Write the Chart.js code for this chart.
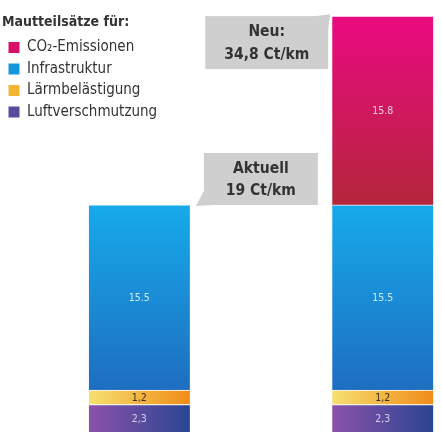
<!DOCTYPE html>
<html>
<head>
<meta charset="utf-8">
<script src="https://cdn.jsdelivr.net/npm/chart.js@4.4.1/dist/chart.umd.min.js"></script>
<style>
  html, body { margin: 0; padding: 0; background: #fff; }
  #wrap { width: 442px; height: 434px; position: relative; }
</style>
</head>
<body>
<div id="wrap"><canvas id="chart"></canvas></div>
<script>
// --- DATA ---
const categories = ['Aktuell', 'Neu'];
const calloutTitles = ['Aktuell', 'Neu:'];
const luft = [2.3, 2.3];
const laerm = [1.2, 1.2];
const infra = [15.5, 15.5];
const co2 = [null, 15.8];
const luftText = ['2,3', '2,3'];
const laermText = ['1,2', '1,2'];
const infraText = ['15.5', '15.5'];
const co2Text = ['', '15.8'];

const FONT = "'DejaVu Sans Condensed', 'Liberation Sans Narrow', 'DejaVu Sans', sans-serif";
const BAR_W = 101;

// gradient per bar segment, horizontal or vertical
function segGradient(c1, c2, horizontal) {
    return (ctx) => {
        const chart = ctx.chart;
        const xs = chart.scales.x, ys = chart.scales.y;
        if (!xs || !ys || ctx.dataIndex === undefined) return c1;
        const i = ctx.dataIndex;
        const cx = xs.getPixelForValue(i);
        let below = 0;
        chart.data.datasets.slice(0, ctx.datasetIndex).forEach(d => { below += d.data[i].y || 0; });
        const val = chart.data.datasets[ctx.datasetIndex].data[i].y || 0;
        const yTop = ys.getPixelForValue(below + val);
        const yBot = ys.getPixelForValue(below);
        const g = horizontal
            ? chart.ctx.createLinearGradient(cx - BAR_W / 2, 0, cx + BAR_W / 2, 0)
            : chart.ctx.createLinearGradient(0, yTop, 0, yBot);
        g.addColorStop(0, c1);
        g.addColorStop(1, c2);
        return g;
    };
}

const toPoints = arr => arr.map((v, i) => ({ x: i, y: v }));

// --- LABELS INSIDE BARS ---
const barLabels = {
    id: 'barLabels',
    afterDatasetsDraw(chart) {
        const c = chart.ctx;
        const texts = [luftText, laermText, infraText, co2Text];
        const colors = ['rgba(225,218,240,0.9)', '#3b3020', 'rgba(255,255,255,0.8)', 'rgba(255,255,255,0.8)'];
        c.save();
        c.font = '10.5px ' + FONT;
        c.textAlign = 'center';
        c.textBaseline = 'middle';
        chart.data.datasets.forEach((d, di) => {
            chart.getDatasetMeta(di).data.forEach((bar, i) => {
                if (d.data[i].y == null) return;
                c.fillStyle = colors[di];
                c.fillText(texts[di][i], bar.x, (bar.y + bar.base) / 2 + 1);
            });
        });
        c.restore();
    }
};

// --- CALLOUT BOXES ---
const callouts = {
    id: 'callouts',
    afterDatasetsDraw(chart) {
        const c = chart.ctx;
        const xs = chart.scales.x, ys = chart.scales.y;
        c.save();
        categories.forEach((cat, i) => {
            const total = luft[i] + laerm[i] + infra[i] + (co2[i] || 0);
            const top = ys.getPixelForValue(total);
            const cx = xs.getPixelForValue(i);
            let bx, by, bw, bh;
            c.fillStyle = '#cfcfcf';
            c.beginPath();
            if (i === 0) {
                bw = 114; bh = 52;
                bx = cx + BAR_W / 2 + 14; by = top - bh;
                c.moveTo(bx, by + bh - 14);
                c.lineTo(bx - 8, by + bh + 1);
                c.lineTo(bx + 10, by + bh);
            } else {
                bw = 123; bh = 53;
                bx = cx - BAR_W / 2 - 4 - bw; by = top;
                c.moveTo(bx + bw - 14, by);
                c.lineTo(bx + bw + 2, by - 2);
                c.lineTo(bx + bw, by + 12);
            }
            c.closePath();
            c.fill();
            c.fillRect(bx, by, bw, bh);
            c.fillStyle = '#333';
            c.font = 'bold 15.5px ' + FONT;
            c.textAlign = 'center';
            c.textBaseline = 'middle';
            const totalText = total.toFixed(1).replace(/\.0$/, '').replace('.', ',') + ' Ct/km';
            c.fillText(calloutTitles[i], bx + bw / 2, by + 16);
            c.fillText(totalText, bx + bw / 2, by + 38.5);
        });
        c.restore();
    }
};

const legendColors = ['#5c4a9e', '#f3b534', '#1796dc', '#d8106a'];

new Chart(document.getElementById('chart'), {
    type: 'bar',
    data: {
        datasets: [
            { label: 'Luftverschmutzung', data: toPoints(luft), backgroundColor: segGradient('#8c52aa', '#2a4592', true) },
            { label: 'Lärmbelästigung', data: toPoints(laerm), backgroundColor: segGradient('#f6e070', '#f08c18', true) },
            { label: 'Infrastruktur', data: toPoints(infra), backgroundColor: segGradient('#16aaea', '#1e6ec0', false) },
            { label: 'CO₂-Emissionen', data: toPoints(co2), backgroundColor: segGradient('#ea0a80', '#b4263c', false) }
        ]
    },
    options: {
        responsive: true,
        maintainAspectRatio: false,
        animation: false,
        layout: { padding: { left: 2, right: 0, top: 0, bottom: 2 } },
        datasets: {
            bar: {
                barThickness: BAR_W,
                borderWidth: { top: 1, left: 0, right: 0, bottom: 0 },
                borderColor: 'rgba(255,255,255,0.85)',
                borderSkipped: false
            }
        },
        scales: {
            x: { type: 'linear', stacked: true, offset: false, min: -0.5644, max: 1.2434, display: false },
            y: { stacked: true, min: 0, max: 36.15, display: false }
        },
        plugins: {
            tooltip: { enabled: false },
            legend: {
                position: 'chartArea',
                align: 'start',
                reverse: true,
                title: {
                    display: true,
                    text: 'Mautteilsätze für:',
                    position: 'start',
                    color: '#333',
                    font: { family: FONT, size: 14, weight: 'bold' },
                    padding: { top: 15.5, bottom: 1.2 }
                },
                labels: {
                    boxWidth: 11,
                    boxHeight: 11,
                    padding: 6.5,
                    color: '#333',
                    font: { family: FONT, size: 15 },
                    generateLabels: (chart) => chart.data.datasets.map((d, i) => ({
                        text: d.label,
                        fillStyle: legendColors[i],
                        strokeStyle: legendColors[i],
                        lineWidth: 0,
                        hidden: false,
                        datasetIndex: i
                    }))
                }
            }
        }
    },
    plugins: [barLabels, callouts]
});
</script>
</body>
</html>
